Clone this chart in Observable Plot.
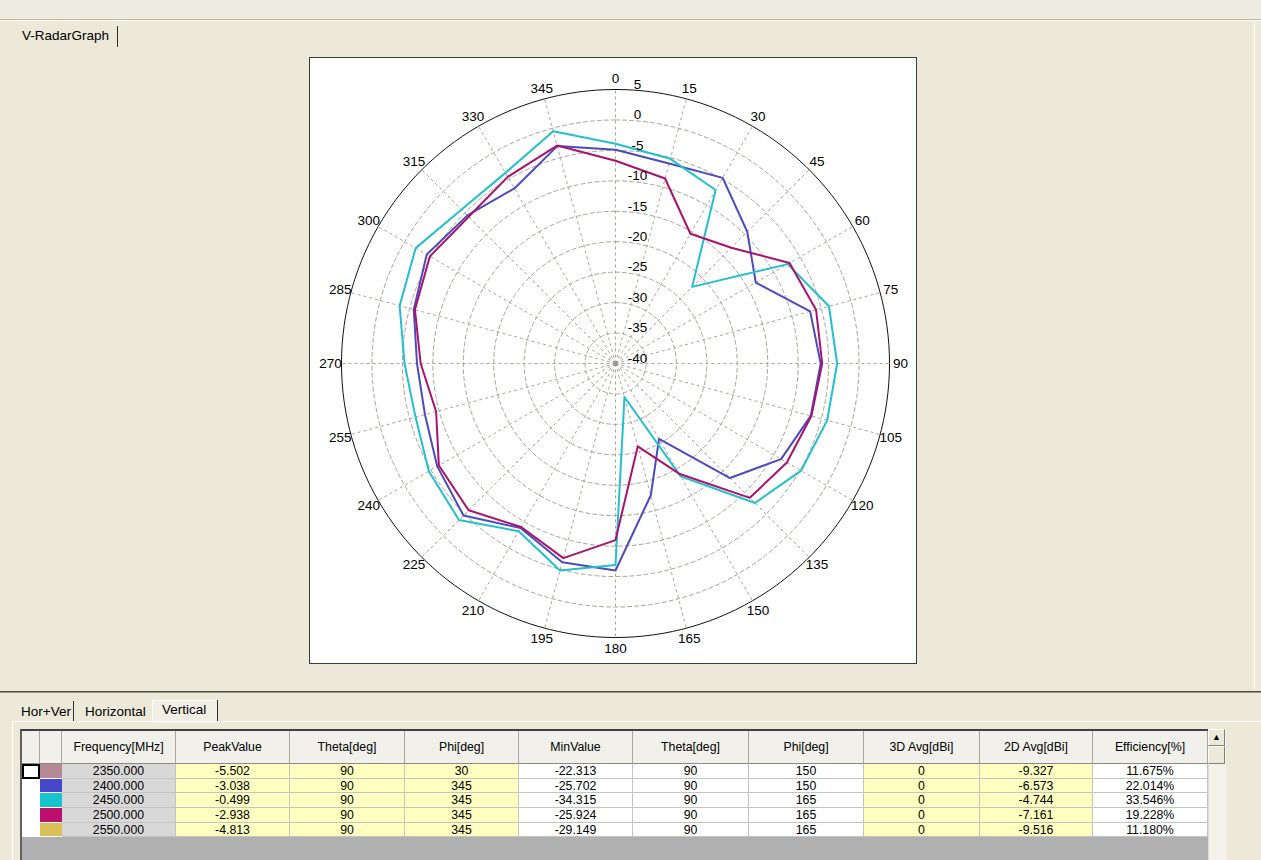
<!DOCTYPE html>
<html><head><meta charset="utf-8">
<script src="https://cdn.jsdelivr.net/npm/d3@7"></script>
<script src="https://cdn.jsdelivr.net/npm/@observablehq/plot@0.6"></script>
<style>
html,body{margin:0;padding:0;}
body{width:1261px;height:860px;overflow:hidden;background:#ece9d8;position:relative;
 font-family:"Liberation Sans",Arial,sans-serif;color:#000;}
.a{position:absolute;}
.lbl{font-size:13.5px;line-height:18px;white-space:nowrap;}
#box{left:309px;top:57px;width:606px;height:605px;border:1px solid #3c3c3c;background:#fff;}
#tbl{left:20px;top:729px;width:1188px;height:140px;background:#b0b0b0;border-top:2px solid #404040;border-left:2px solid #606060;box-sizing:border-box;}
.cell{position:absolute;box-sizing:border-box;border-right:1px solid #c4c4c4;border-bottom:1px solid #c4c4c4;
 font-size:12.3px;text-align:center;white-space:nowrap;overflow:hidden;}
.hd{background:#f1f0ea;border-right:1px solid #aca899;border-bottom:1px solid #8a8a8a;}
</style></head><body>

<div class="a" style="left:0;top:0;width:1261px;height:19px;background:#efede2;"></div>
<div class="a" style="left:0;top:19px;width:1261px;height:1px;background:#b9b5a2;"></div>
<div class="a" style="left:0;top:20px;width:1261px;height:1px;background:#ffffff;"></div>
<div class="a" style="left:1254px;top:21px;width:1px;height:670px;background:#ffffff;"></div>
<div class="a lbl" style="left:22px;top:27px;">V-RadarGraph</div>
<div class="a" style="left:117px;top:26px;width:1px;height:21px;background:#303030;"></div>

<div id="box" class="a"></div>

<div class="a" style="left:0;top:691px;width:1261px;height:1px;background:#4a4a4a;"></div>
<div class="a" style="left:0;top:692px;width:1261px;height:1px;background:#9a9a8a;"></div>
<div class="a" style="left:152px;top:700px;width:65px;height:22px;background:#f1efe4;border-top:1px solid #fff;border-left:1px solid #fff;"></div>
<div class="a lbl" style="left:21px;top:703px;">Hor+Ver</div>
<div class="a" style="left:73px;top:701px;width:1px;height:20px;background:#303030;"></div>
<div class="a lbl" style="left:85px;top:703px;">Horizontal</div>
<div class="a lbl" style="left:162px;top:701px;">Vertical</div>
<div class="a" style="left:217px;top:700px;width:1px;height:21px;background:#303030;"></div>
<div class="a" style="left:12px;top:721px;width:1249px;height:1px;background:#ffffff;"></div>
<div class="a" style="left:12px;top:721px;width:1px;height:139px;background:#ffffff;"></div>

<div id="tbl" class="a"></div>
<div class="a" style="left:1208px;top:729px;width:17px;height:140px;background:#f3f2ea;border-left:1px solid #e0ddd0;"></div>
<div class="a" style="left:1208px;top:729px;width:17px;height:17px;box-sizing:border-box;background:#ece9d8;border:1px solid #fff;border-right-color:#808080;border-bottom-color:#808080;font-size:9px;text-align:center;line-height:15px;">&#9650;</div>
<div class="a" style="left:1208px;top:746px;width:17px;height:18px;box-sizing:border-box;background:#ece9d8;border:1px solid #fff;border-right-color:#808080;border-bottom-color:#808080;"></div>

<script>
// ---------- chart data ----------
const angleTicks = [0,15,30,45,60,75,90,105,120,135,150,165,180,195,210,225,240,255,270,285,300,315,330,345];
const ringTicks  = [5,0,-5,-10,-15,-20,-25,-30,-35,-40];
const seriesNames = ["2400.000","2450.000","2500.000"];
const seriesColors = ["#4b4bbb","#22c0cc","#a8126e"];
const v2400 = [-4.9,-6.0,-4.8,-9.4,-13.4,-6.9,-6.3,-6.8,-8.6,-13.4,-25.7,-17.6,-6.0,-6.2,-8.8,-4.7,-6.2,-7.6,-7.4,-5.7,-4.2,-5.6,-6.8,-3.04];
const v2450 = [-3.9,-5.2,-7.1,-22.2,-7.35,-3.7,-3.6,-4.0,-4.8,-7.6,-18.6,-34.3,-6.9,-4.8,-8.2,-3.65,-4.6,-6.0,-5.35,-3.3,-2.1,-4.25,-3.85,-0.5];
const v2500 = [-6.7,-8.55,-15.4,-13.1,-7.0,-5.9,-6.05,-6.7,-7.5,-8.8,-19.1,-25.9,-11.0,-6.9,-9.0,-5.9,-6.5,-9.5,-8.0,-5.9,-4.8,-5.9,-4.6,-2.94];

// ---------- table data ----------
const colHeaders = ["Frequency[MHz]","PeakValue","Theta[deg]","Phi[deg]","MinValue","Theta[deg]","Phi[deg]","3D Avg[dBi]","2D Avg[dBi]","Efficiency[%]"];
const frequencies = ["2350.000","2400.000","2450.000","2500.000","2550.000"];
const swatches = ["#b48a96","#4747c9","#17c3cf","#bf0f6d","#dbbf59"];
const peakValue = ["-5.502","-3.038","-0.499","-2.938","-4.813"];
const peakTheta = ["90","90","90","90","90"];
const peakPhi = ["30","345","345","345","345"];
const minValue = ["-22.313","-25.702","-34.315","-25.924","-29.149"];
const minTheta = ["90","90","90","90","90"];
const minPhi = ["150","150","165","165","165"];
const avg3D = ["0","0","0","0","0"];
const avg2D = ["-9.327","-6.573","-4.744","-7.161","-9.516"];
const efficiency = ["11.675%","22.014%","33.546%","19.228%","11.180%"];

// ---------- chart ----------
const R0 = -40;
const rad = d => d * Math.PI / 180;
const px = (a, v) => (v - R0) * Math.sin(rad(a));
const py = (a, v) => (v - R0) * Math.cos(rad(a));
const sweep = d3.range(0, 361, 2);

const ringPts = ringTicks.filter(v => v < 5 && v > R0).flatMap(v => sweep.map(a => ({ring: v, a})));
const outerPts = sweep.map(a => ({a}));

const seriesData = [v2400, v2450, v2500].map((vals, k) =>
  vals.map((v, i) => ({name: seriesNames[k], a: angleTicks[i], v})));

const font = '"Liberation Sans",Arial,sans-serif';
const gridColor = "#aba599";

const chart = Plot.plot({
  width: 606, height: 605,
  marginLeft: 31, marginRight: 27, marginTop: 31, marginBottom: 26,
  x: {domain: [-45, 45], axis: null},
  y: {domain: [-45, 45], axis: null},
  style: {background: "#fff", fontFamily: font, fontSize: "13px", overflow: "visible"},
  marks: [
    Plot.line(ringPts, {x: d => px(d.a, d.ring), y: d => py(d.a, d.ring), z: "ring",
      stroke: gridColor, strokeWidth: 1, strokeDasharray: "4,3"}),
    Plot.link(angleTicks, {x1: () => 0, y1: () => 0, x2: a => px(a, 5), y2: a => py(a, 5),
      stroke: gridColor, strokeWidth: 1, strokeDasharray: "3,3"}),
    Plot.line(outerPts, {x: d => px(d.a, 5), y: d => py(d.a, 5), stroke: "#111", strokeWidth: 1}),
    Plot.dot([0], {x: () => 0, y: () => 0, symbol: "square", r: 2.6, fill: "#9a9a9a"}),
    ...seriesData.map((d, k) => Plot.line(d, {x: p => px(p.a, p.v), y: p => py(p.a, p.v),
      curve: "linear-closed", stroke: seriesColors[k], strokeWidth: 2})),
    Plot.text(angleTicks, {x: a => px(a, 6.8), y: a => py(a, 6.8), text: a => String(a),
      fill: "#000", fontSize: 13.5}),
    Plot.text(ringTicks, {x: () => 0, y: v => v - R0, text: v => String(v), dx: 22, dy: -5,
      fill: "#000", fontSize: 13.5})
  ]
});
document.getElementById("box").appendChild(chart);

// ---------- table ----------
const tbl = document.getElementById("tbl");
const borders = [0, 18, 40, 154, 268, 383, 497, 611, 727, 842, 958, 1071, 1186];
const headerH = 33, rowH = 14.7;
const colBg = ["#ffffc0","#ffffc0","#ffffc0","#ffffff","#ffffff","#ffffff","#ffffc0","#ffffc0","#ffffff"];
function cell(x0, x1, y, h, text, cls, bg) {
  const c = document.createElement("div");
  c.className = "cell" + (cls ? " " + cls : "");
  c.style.left = x0 + "px"; c.style.top = y + "px";
  c.style.width = (x1 - x0) + "px"; c.style.height = h + "px";
  c.style.lineHeight = h + "px";
  if (bg) c.style.background = bg;
  c.textContent = text;
  tbl.appendChild(c);
  return c;
}
cell(borders[0], borders[1], 0, headerH, "", "hd");
cell(borders[1], borders[2], 0, headerH, "", "hd");
colHeaders.forEach((h, j) => cell(borders[j + 2], borders[j + 3], 0, headerH, h, "hd"));
const columns = [frequencies, peakValue, peakTheta, peakPhi, minValue, minTheta, minPhi, avg3D, avg2D, efficiency];
frequencies.forEach((f, i) => {
  const y = headerH + i * rowH;
  const sel = cell(borders[0], borders[1], y, rowH, "", null, "#fff");
  sel.style.borderRight = "none"; sel.style.borderBottom = "none";
  if (i === 0) { sel.style.border = "2px solid #000"; }
  const sw = cell(borders[1], borders[2], y, rowH, "", null, swatches[i]);
  sw.style.border = "none"; sw.style.borderBottom = "1px solid #fff";
  columns.forEach((col, j) => cell(borders[j + 2], borders[j + 3], y, rowH, col[i], null,
    j === 0 ? "#d8d8d8" : colBg[j - 1]));
});
</script>
</body></html>
